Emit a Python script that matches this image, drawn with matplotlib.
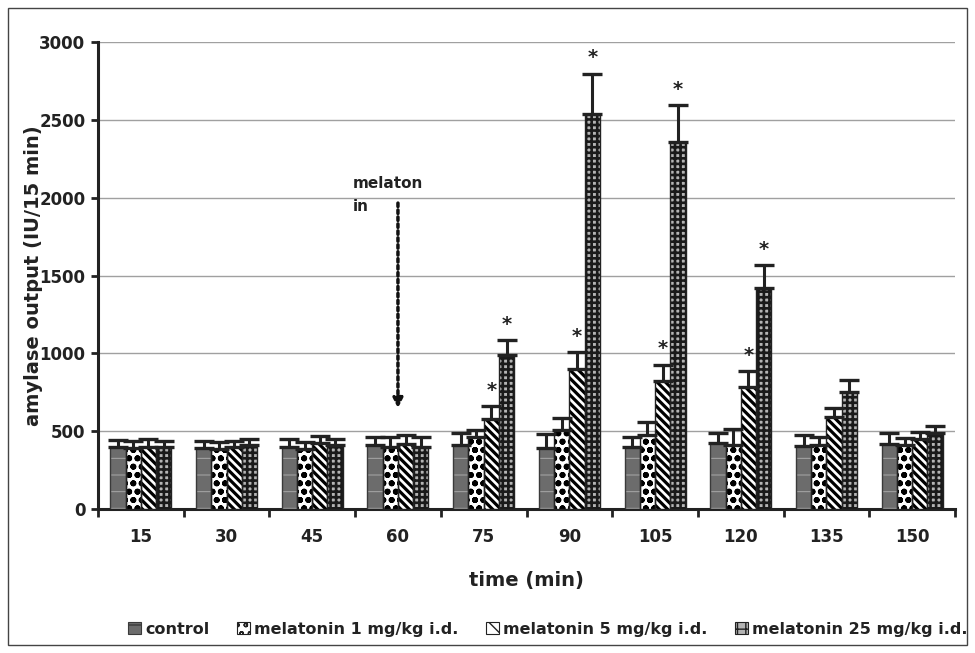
import matplotlib
matplotlib.use("Agg")
import matplotlib.pyplot as plt
import numpy as np
from matplotlib.patches import Rectangle, Patch

plt.rcParams['font.family'] = ['DejaVu Sans']
plt.rcParams['font.weight'] = 'bold'

times = ["15", "30", "45", "60", "75", "90", "105", "120", "135", "150"]
series_names = ["control", "melatonin 1 mg/kg i.d.", "melatonin 5 mg/kg i.d.", "melatonin 25 mg/kg i.d."]

control = [400, 390, 400, 410, 410, 395, 400, 425, 405, 418]
mel1 = [390, 385, 385, 400, 463, 507, 476, 412, 410, 414]
mel5 = [400, 400, 424, 420, 577, 903, 826, 787, 590, 449]
mel25 = [400, 413, 410, 400, 990, 2543, 2363, 1422, 755, 487]

control_err = [45, 47, 50, 55, 77, 88, 63, 65, 71, 69]
mel1_err = [47, 48, 48, 65, 45, 75, 81, 103, 55, 43]
mel5_err = [50, 40, 45, 55, 83, 105, 103, 101, 61, 45]
mel25_err = [40, 37, 43, 65, 99, 257, 232, 144, 75, 47]

# asterisks: (category index, series index)
stars = [(4, 2), (4, 3), (5, 2), (5, 3), (6, 2), (6, 3), (7, 2), (7, 3)]

values = [control, mel1, mel5, mel25]
errors = [control_err, mel1_err, mel5_err, mel25_err]

faces = ['#6c6c6c', 'white', 'white', '#b4b4b4']
hatch_colors = ['#a8a8a8', 'black', 'black', '#1a1a1a']
outline = ['#3a3a3a', '#222222', '#222222', '#222222']
hatches = ['-', 'oo', '\\\\\\\\', '+++']
hatch_lw = [0.7, 1.9, 2.3, 1.9]

fig = plt.figure(figsize=(9.75, 6.53), dpi=100)
ax = fig.add_axes([0.1005, 0.2205, 0.879, 0.7145])

x = np.arange(len(times))
w = 0.178
offsets = [-1.5 * w, -0.5 * w, 0.5 * w, 1.5 * w]

for i in range(4):
    with plt.rc_context({'hatch.linewidth': hatch_lw[i]}):
        ax.bar(x + offsets[i], values[i], width=w, color=faces[i], edgecolor=hatch_colors[i],
               hatch=hatches[i], linewidth=0, zorder=3)
        ax.bar(x + offsets[i], values[i], width=w, fill=False, edgecolor=outline[i],
               linewidth=1.0, zorder=3.5)
    ax.errorbar(x + offsets[i], values[i], yerr=[np.zeros(len(times)), errors[i]],
                fmt='none', ecolor='#222222', elinewidth=2.2, capsize=7, capthick=2.4, zorder=4)

for ci, si in stars:
    top = values[si][ci] + errors[si][ci]
    ax.text(x[ci] + offsets[si], top + 100, "*", ha='center', va='center',
            fontsize=14, fontweight='bold', color='#222222')

ax.set_xlim(-0.5, len(times) - 0.5)
ax.set_ylim(0, 3000)
ax.set_yticks(np.arange(0, 3001, 500))
ax.yaxis.grid(True, color='#a0a0a0', linewidth=1.0, zorder=0)
ax.set_axisbelow(True)

ax.set_xticks(x)
ax.set_xticklabels(times, fontsize=12, fontweight='bold')
ax.tick_params(axis='x', which='major', length=0, pad=14)
ax.set_xticks(np.arange(-0.5, len(times), 1.0), minor=True)
ax.tick_params(axis='x', which='minor', length=6, width=2, direction='out', color='#222222')
ax.tick_params(axis='y', length=5, width=2, direction='out', color='#222222', labelsize=12, pad=4)
for lab in ax.get_yticklabels():
    lab.set_fontweight('bold')
    lab.set_color('#222222')
for lab in ax.get_xticklabels():
    lab.set_color('#222222')

for s in ['top', 'right']:
    ax.spines[s].set_visible(False)
for s in ['left', 'bottom']:
    ax.spines[s].set_linewidth(2.2)
    ax.spines[s].set_color('#222222')

ax.set_xlabel("time (min)", fontsize=14, fontweight='bold', color='#222222')
ax.set_ylabel("amylase output (IU/15 min)", fontsize=14, fontweight='bold', color='#222222')
ax.xaxis.set_label_coords(0.5, -0.132)
ax.yaxis.set_label_coords(-0.064, 0.5)

# melatonin arrow annotation
ax.annotate("", xy=(3.0, 630), xytext=(3.0, 1985),
            arrowprops=dict(arrowstyle='-|>', linestyle=(0, (1, 1)), linewidth=2.5,
                            color='#111111', mutation_scale=14))
ax.text(2.47, 1900, "melaton\nin", fontsize=11, fontweight='bold', color='#222222',
        ha='left', va='bottom', linespacing=1.6)

# legend with proxy patches in the same styles
proxies = []
for i in range(4):
    with plt.rc_context({'hatch.linewidth': min(hatch_lw[i], 1.0)}):
        proxies.append(Patch(facecolor=faces[i], edgecolor=outline[i], hatch=hatches[i][:2],
                             linewidth=0.8))
leg = fig.legend(proxies, series_names, loc='lower center', bbox_to_anchor=(0.562, 0.003), ncol=4,
                 frameon=False, prop={'weight': 'bold', 'size': 11.5}, handlelength=0.8,
                 handleheight=0.8, handletextpad=0.25, columnspacing=1.75)
for t in leg.get_texts():
    t.set_color('#222222')

fig.add_artist(Rectangle((0.008, 0.012), 0.984, 0.976, transform=fig.transFigure,
                         fill=False, edgecolor='#444444', linewidth=1.0))

fig.savefig("out.png", dpi=100)
